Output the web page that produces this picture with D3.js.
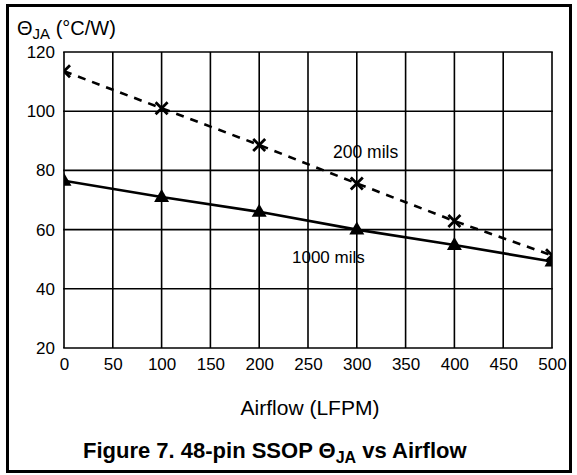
<!DOCTYPE html>
<html><head><meta charset="utf-8">
<script src="https://cdn.jsdelivr.net/npm/d3@7"></script>
<style>body{margin:0;background:#fff}svg{display:block;font-family:"Liberation Sans",Arial,sans-serif}</style>
</head><body>
<script>
const airflow = [0,100,200,300,400,500];
const mils200 = [113.5,101,88.6,75.6,62.9,51.3];
const mils1000 = [76.5,71,66,60,54.8,49.2];
const xTicks = [0,50,100,150,200,250,300,350,400,450,500];
const yTicks = [20,40,60,80,100,120];

const W=577,H=475;
const F="Liberation Sans, Arial, sans-serif";
const svg=d3.select("body").append("svg").attr("width",W).attr("height",H);
svg.append("rect").attr("x",7.5).attr("y",5.5).attr("width",563).attr("height",466).attr("fill","#fff").attr("stroke","#000").attr("stroke-width",3);

const x=d3.scaleLinear().domain([0,500]).range([64,552]);
const y=d3.scaleLinear().domain([20,120]).range([348,52]);

const g=svg.append("g");
g.selectAll(".vx").data(xTicks).join("line").attr("x1",d=>x(d)).attr("x2",d=>x(d)).attr("y1",y(20)).attr("y2",y(120)).attr("stroke","#000").attr("stroke-width",1.6);
g.selectAll(".hy").data(yTicks).join("line").attr("x1",x(0)-0.8).attr("x2",x(500)+0.8).attr("y1",d=>y(d)).attr("y2",d=>y(d)).attr("stroke","#000").attr("stroke-width",1.6);

const xa=svg.append("g").attr("transform",`translate(0,${y(20)})`).call(d3.axisBottom(x).tickValues(xTicks).tickSize(0).tickPadding(10));
xa.select(".domain").remove();
xa.selectAll("text").attr("font-size",17).attr("font-family",F).attr("fill","#000");
const ya=svg.append("g").attr("transform",`translate(${x(0)},0)`).call(d3.axisLeft(y).tickValues(yTicks).tickSize(0).tickPadding(9));
ya.select(".domain").remove();
ya.selectAll("text").attr("font-size",17).attr("font-family",F).attr("fill","#000");

const line=d3.line().x(d=>x(d[0])).y(d=>y(d[1]));
const p200=airflow.map((a,i)=>[a,mils200[i]]);
const p1000=airflow.map((a,i)=>[a,mils1000[i]]);
svg.append("clipPath").attr("id","c").append("rect").attr("x",x(0)).attr("y",y(120)).attr("width",x(500)-x(0)).attr("height",y(20)-y(120));
const pl=svg.append("g").attr("clip-path","url(#c)");
pl.append("path").attr("d",line(p200)).attr("fill","none").attr("stroke","#000").attr("stroke-width",2.6).attr("stroke-dasharray","8,7");
pl.append("path").attr("d",line(p1000)).attr("fill","none").attr("stroke","#000").attr("stroke-width",2.6);
pl.selectAll(".cr").data(p200).join("path").attr("d",d=>{const cx=x(d[0]),cy=y(d[1]),s=6;return `M${cx-s},${cy-s}L${cx+s},${cy+s}M${cx-s},${cy+s}L${cx+s},${cy-s}`;}).attr("stroke","#000").attr("stroke-width",2.8);
pl.selectAll(".tr").data(p1000).join("path").attr("d",d=>{const cx=x(d[0]),cy=y(d[1]);return `M${cx},${cy-8}L${cx+7.5},${cy+5}L${cx-7.5},${cy+5}Z`;}).attr("fill","#000");

svg.append("text").attr("x",333).attr("y",158).attr("font-size",17.5).attr("font-family",F).text("200 mils");
svg.append("text").attr("x",292).attr("y",263).attr("font-size",17).attr("font-family",F).text("1000 mils");

const yt=svg.append("text").attr("x",17).attr("y",35).attr("font-size",20).attr("font-family",F);
yt.append("tspan").text("Θ");
yt.append("tspan").attr("font-size",15).attr("dy",4).text("JA");
yt.append("tspan").attr("dy",-4).text(" (°C/W)");

svg.append("text").attr("x",310).attr("y",415).attr("text-anchor","middle").attr("font-size",21).attr("font-family",F).text("Airflow (LFPM)");
const t=svg.append("text").attr("x",83).attr("y",458).attr("font-size",22).attr("font-weight","bold").attr("font-family",F);
t.append("tspan").text("Figure 7. 48-pin SSOP Θ");
t.append("tspan").attr("font-size",16).attr("dy",5).text("JA");
t.append("tspan").attr("dy",-5).text(" vs Airflow");
</script>
</body></html>
